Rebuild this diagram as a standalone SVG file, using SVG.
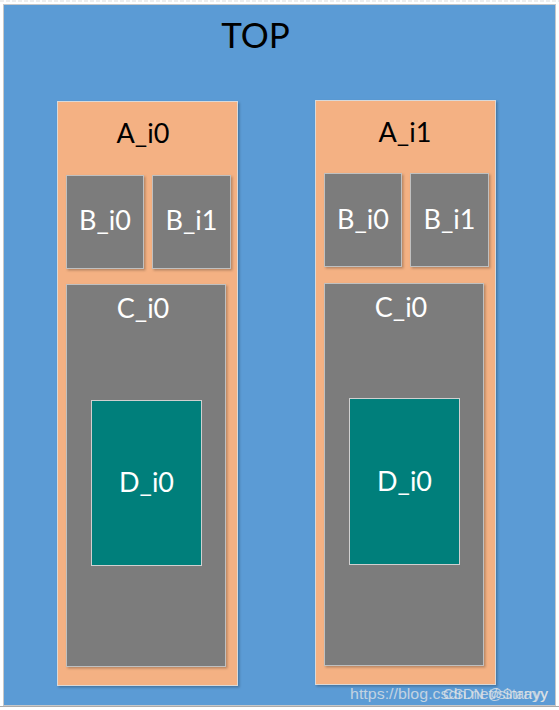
<svg xmlns="http://www.w3.org/2000/svg" width="559" height="710" viewBox="0 0 559 710">
<defs>
<filter id="sh" x="-10%" y="-10%" width="130%" height="130%">
<feDropShadow dx="1.5" dy="1.5" stdDeviation="1.2" flood-color="#000" flood-opacity="0.25"/>
</filter>
<style>
.top{fill:#5B9BD5;stroke:#c8c8c8;stroke-width:1}
.a{fill:#F4B183;stroke:#d9d9d9;stroke-width:1}
.g{fill:#7B7B7B;stroke:#c0c0c0;stroke-width:1}
.d{fill:#007F7B;stroke:#d0d0d0;stroke-width:1}
text{font-family:Lato,"Open Sans","Liberation Sans",sans-serif;text-anchor:middle}
.lb{font-size:27px;fill:#000}
.lw{font-size:27px;fill:#fff}
.wm{font-family:"Liberation Sans",Arial,sans-serif;font-size:15px;fill:#e6e6e6;fill-opacity:0.75;text-anchor:start}
</style>
</defs>
<rect x="0" y="0" width="559" height="710" fill="#ffffff"/>
<line x1="0" y1="1" x2="559" y2="1" stroke="#dddddd" stroke-dasharray="4 2"/>
<g id="TOP">
<rect class="top" x="3.5" y="4.5" width="552" height="701"/>
<text x="255.5" y="48" style="font-size:35px;fill:#000">TOP</text>
</g>
<g id="A_i0">
<rect class="a" x="57.5" y="101.5" width="180" height="584" filter="url(#sh)"/>
<text class="lb" x="143" y="143">A_i0</text>
</g>
<g id="A_i0_B_i0">
<rect class="g" x="66.5" y="175.5" width="77" height="93" filter="url(#sh)"/>
<text class="lw" x="105" y="230">B_i0</text>
</g>
<g id="A_i0_B_i1">
<rect class="g" x="152.5" y="175.5" width="78" height="93" filter="url(#sh)"/>
<text class="lw" x="191.5" y="230">B_i1</text>
</g>
<g id="A_i0_C_i0">
<rect class="g" x="66.5" y="284.5" width="159" height="382" filter="url(#sh)"/>
<text class="lw" x="143" y="318">C_i0</text>
</g>
<g id="A_i0_D_i0">
<rect class="d" x="91.5" y="400.5" width="110" height="165"/>
<text class="lw" x="146.5" y="492">D_i0</text>
</g>
<g id="A_i1">
<rect class="a" x="315.5" y="100.5" width="180" height="584" filter="url(#sh)"/>
<text class="lb" x="405" y="142">A_i1</text>
</g>
<g id="A_i1_B_i0">
<rect class="g" x="324.5" y="173.5" width="77" height="93" filter="url(#sh)"/>
<text class="lw" x="363" y="229">B_i0</text>
</g>
<g id="A_i1_B_i1">
<rect class="g" x="410.5" y="173.5" width="78" height="93" filter="url(#sh)"/>
<text class="lw" x="449.5" y="229">B_i1</text>
</g>
<g id="A_i1_C_i0">
<rect class="g" x="324.5" y="283.5" width="159" height="382" filter="url(#sh)"/>
<text class="lw" x="401" y="317">C_i0</text>
</g>
<g id="A_i1_D_i0">
<rect class="d" x="349.5" y="398.5" width="110" height="166"/>
<text class="lw" x="404.5" y="491">D_i0</text>
</g>
<g id="connectors"></g>
<line x1="0" y1="706.5" x2="559" y2="706.5" stroke="#aaaaaa"/>
<text class="wm" x="350" y="699" textLength="198" lengthAdjust="spacingAndGlyphs">https://blog.csdn.net/sinrayy</text>
<text class="wm" x="443" y="699" textLength="105" lengthAdjust="spacingAndGlyphs">CSDN @Starryy</text>
</svg>
